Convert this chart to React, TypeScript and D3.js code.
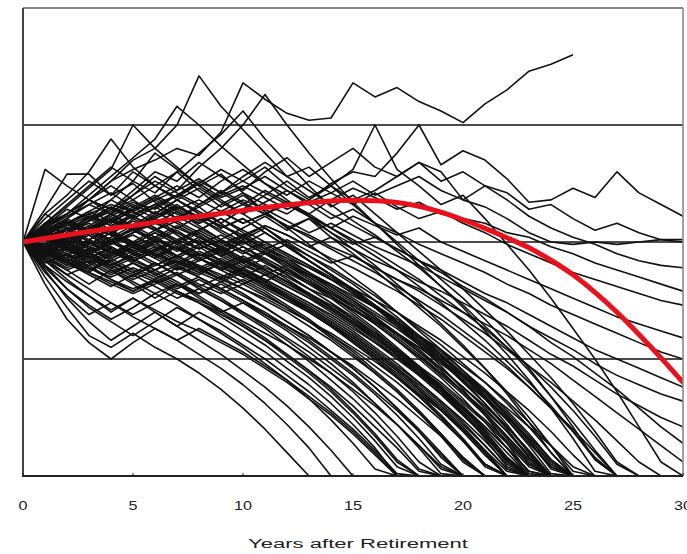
import React from 'react';
import * as d3 from 'd3';

// Years after retirement: index of each value = year (0..30)
const xTicks = [0, 5, 10, 15, 20, 25, 30];
const gridValues = [50, 100, 150];
const xTitle = 'Years after Retirement';

// Mean / expected path (red)
const meanPath = [100, 101.5, 103, 104.5, 105.8, 107, 108.5, 109.8, 111, 112.2, 113.5, 114.7, 115.8, 116.8, 117.5, 117.8, 117.6, 116.9, 115.3, 112.8, 109.5, 105.8, 101.8, 97.5, 92.2, 86, 78.5, 70, 60.5, 50.5, 40];

// Paths that survive (or end above zero)
const survivorPaths: number[][] = [
  [100, 108, 112, 118, 126, 131, 135, 140, 137, 147, 168, 161, 155, 152, 153, 168, 162, 166, 160, 156, 151, 159, 165, 173, 176, 180],
  [100, 103, 108, 112, 116, 113, 118, 122, 127, 121, 126, 132, 124, 118, 125, 130, 128, 138, 150, 133, 139, 135, 127, 117, 118, 123, 119, 130, 121, 116, 111],
  [100, 104, 109, 105, 112, 117, 114, 120, 125, 119, 123, 128, 122, 117, 121, 126, 120, 124, 128, 122, 118, 115, 110, 104, 100, 99, 100, 99, 100, 101, 101],
  [100, 106, 112, 118, 114, 122, 130, 126, 134, 128, 122, 130, 136, 128, 134, 140, 132, 128, 134, 126, 130, 124, 121, 114, 116, 110, 105, 108, 104, 101, 100],
  [100, 102, 98, 104, 110, 106, 112, 118, 113, 108, 114, 120, 126, 119, 124, 118, 122, 128, 134, 130, 118, 124, 118, 111, 106, 102, 99, 95, 92, 90, 89],
  [100, 97, 102, 107, 103, 110, 115, 110, 116, 121, 116, 122, 117, 112, 118, 123, 119, 114, 117, 112, 110, 108, 104, 102, 98, 95, 91, 88, 85, 82, 79],
  [100, 103, 107, 111, 108, 114, 119, 124, 119, 126, 131, 125, 120, 126, 121, 116, 121, 115, 110, 113, 108, 104, 99, 95, 91, 87, 84, 81, 78, 75, 73],
  [100, 96, 100, 104, 109, 105, 110, 114, 109, 113, 108, 112, 116, 111, 106, 111, 107, 103, 106, 100, 96, 92, 88, 84, 80, 76, 72, 68, 65, 62, 59],
  [100, 105, 101, 106, 111, 116, 112, 118, 123, 117, 112, 117, 122, 116, 110, 114, 108, 104, 99, 95, 91, 87, 82, 78, 73, 69, 65, 61, 57, 53, 50],
  [100, 98, 103, 99, 104, 109, 105, 111, 106, 101, 106, 111, 105, 110, 104, 99, 102, 97, 92, 88, 83, 78, 74, 69, 64, 59, 54, 50, 46, 42, 38],
  [100, 104, 108, 104, 109, 113, 118, 113, 108, 113, 118, 114, 109, 104, 108, 103, 98, 94, 90, 85, 80, 75, 70, 64, 59, 54, 48, 43, 39, 35, 32],
  [100, 97, 101, 105, 101, 106, 110, 106, 111, 107, 102, 107, 103, 98, 102, 97, 92, 88, 83, 79, 74, 69, 64, 58, 52, 47, 41, 35, 30, 25, 21],
  [100, 102, 106, 110, 115, 111, 116, 120, 115, 120, 124, 119, 114, 118, 112, 107, 102, 97, 92, 87, 81, 76, 70, 64, 57, 51, 44, 37, 29, 21, 14],
  [100, 99, 95, 99, 104, 100, 105, 109, 104, 99, 103, 97, 101, 96, 91, 94, 89, 84, 80, 75, 70, 65, 60, 54, 48, 41, 34, 27, 20, 13, 6],
];

// Paths that run out of money
const depletedPaths: number[][] = [
  [100, 82, 67, 57, 50, 57, 63, 58, 52, 46, 39, 31, 22, 12, 0],
  [100, 85, 72, 60, 55, 61, 55, 50, 44, 37, 29, 20, 10, 0],
  [100, 88, 76, 66, 58, 64, 70, 64, 58, 52, 45, 38, 30, 21, 11, 0],
  [100, 90, 80, 72, 66, 60, 66, 72, 67, 61, 55, 48, 41, 33, 24, 14, 3, 0],
  [100, 92, 84, 77, 70, 76, 70, 64, 70, 65, 59, 53, 46, 39, 31, 22, 12, 0],
  [100, 94, 88, 82, 88, 82, 76, 82, 77, 71, 65, 59, 52, 45, 37, 28, 18, 7, 0],
  [100, 95, 90, 96, 90, 85, 91, 86, 80, 75, 69, 63, 56, 49, 41, 33, 24, 14, 3, 0],
  [100, 97, 92, 87, 93, 88, 84, 89, 85, 80, 84, 79, 73, 67, 60, 53, 45, 37, 28, 18, 7, 0],
  [100, 93, 97, 91, 86, 91, 87, 82, 78, 83, 78, 72, 66, 60, 53, 46, 38, 29, 20, 10, 0],
  [100, 96, 100, 95, 90, 95, 100, 94, 89, 84, 88, 83, 77, 71, 65, 58, 51, 43, 35, 26, 16, 5, 0],
  [100, 104, 98, 93, 98, 93, 88, 93, 98, 92, 87, 82, 76, 70, 64, 57, 50, 42, 34, 25, 15, 4, 0],
  [100, 102, 106, 100, 95, 100, 95, 90, 95, 90, 85, 90, 84, 78, 72, 66, 59, 52, 44, 36, 27, 17, 6, 0],
  [100, 98, 94, 99, 104, 98, 93, 98, 93, 88, 92, 87, 82, 77, 71, 65, 59, 52, 45, 37, 29, 20, 10, 0],
  [100, 103, 99, 95, 100, 96, 101, 97, 92, 96, 91, 86, 90, 85, 79, 73, 67, 60, 53, 46, 38, 30, 21, 11, 0],
  [100, 101, 105, 110, 104, 99, 104, 99, 94, 98, 93, 88, 83, 78, 72, 66, 59, 52, 44, 36, 27, 17, 6, 0],
  [100, 97, 101, 106, 101, 96, 100, 105, 99, 94, 98, 92, 86, 80, 74, 67, 60, 53, 45, 37, 28, 18, 7, 0],
  [100, 105, 110, 105, 100, 106, 101, 96, 101, 95, 100, 95, 89, 83, 77, 70, 63, 55, 47, 38, 29, 19, 8, 0],
  [100, 96, 92, 88, 93, 98, 93, 88, 92, 96, 91, 95, 90, 84, 78, 72, 65, 58, 50, 42, 33, 23, 12, 0],
  [100, 104, 100, 105, 110, 105, 100, 94, 99, 94, 89, 93, 88, 82, 76, 69, 62, 54, 46, 37, 27, 16, 4, 0],
  [100, 99, 103, 98, 102, 107, 102, 107, 102, 97, 101, 96, 91, 85, 79, 73, 66, 59, 52, 44, 36, 27, 17, 7, 0],
  [100, 107, 112, 118, 112, 106, 111, 116, 110, 104, 99, 104, 98, 92, 86, 79, 72, 64, 56, 47, 37, 26, 14, 1, 0],
  [100, 103, 108, 113, 118, 113, 108, 113, 107, 101, 96, 91, 86, 80, 74, 68, 61, 54, 46, 38, 29, 19, 8, 0],
  [100, 95, 99, 104, 99, 104, 109, 103, 97, 101, 96, 100, 95, 90, 84, 78, 72, 65, 58, 51, 43, 35, 26, 16, 5, 0],
  [100, 102, 97, 101, 106, 111, 106, 100, 105, 110, 104, 98, 93, 87, 81, 75, 68, 61, 53, 45, 36, 27, 17, 6, 0],
  [100, 98, 102, 107, 112, 107, 113, 108, 103, 97, 92, 96, 91, 86, 80, 74, 68, 61, 54, 46, 38, 29, 19, 8, 0],
  [100, 104, 109, 104, 99, 104, 110, 115, 110, 105, 100, 95, 99, 94, 89, 83, 77, 70, 63, 56, 48, 40, 31, 21, 10, 0],
  [100, 101, 96, 100, 95, 99, 104, 99, 94, 98, 102, 97, 92, 87, 82, 76, 70, 64, 57, 50, 42, 34, 25, 15, 4, 0],
  [100, 106, 111, 116, 121, 115, 110, 104, 99, 103, 98, 93, 88, 83, 77, 71, 65, 58, 51, 43, 35, 26, 16, 5, 0],
  [100, 110, 118, 126, 120, 130, 124, 118, 112, 106, 110, 104, 98, 92, 86, 80, 73, 66, 58, 50, 41, 31, 20, 8, 0],
  [100, 108, 116, 124, 132, 126, 138, 131, 124, 118, 112, 106, 100, 94, 88, 82, 75, 68, 60, 52, 43, 33, 22, 10, 0],
  [100, 106, 112, 120, 128, 136, 144, 158, 150, 141, 133, 125, 118, 111, 104, 97, 90, 82, 74, 65, 56, 46, 35, 23, 10, 0],
  [100, 105, 110, 118, 126, 135, 140, 150, 171, 158, 148, 138, 128, 132, 124, 116, 108, 100, 92, 84, 76, 67, 57, 46, 34, 21, 7, 0],
  [100, 108, 115, 123, 131, 150, 140, 132, 124, 129, 121, 113, 106, 110, 102, 95, 88, 80, 72, 64, 55, 46, 36, 25, 13, 0],
  [100, 112, 120, 130, 144, 132, 124, 130, 122, 115, 120, 113, 106, 99, 92, 85, 78, 70, 62, 54, 45, 36, 26, 15, 3, 0],
  [100, 131, 124, 118, 124, 118, 112, 118, 112, 106, 110, 104, 98, 92, 86, 80, 73, 66, 59, 51, 43, 34, 24, 13, 1, 0],
  [100, 114, 129, 129, 120, 125, 117, 110, 115, 108, 101, 106, 99, 92, 86, 79, 72, 65, 57, 49, 40, 31, 21, 10, 0],
  [100, 107, 114, 110, 118, 126, 121, 130, 138, 146, 156, 144, 134, 124, 115, 120, 112, 104, 96, 88, 80, 71, 62, 52, 42, 31, 19, 6, 0],
  [100, 104, 110, 116, 112, 120, 128, 122, 132, 140, 150, 163, 150, 138, 127, 117, 108, 99, 90, 81, 72, 62, 52, 41, 29, 16, 2, 0],
  [100, 103, 108, 113, 109, 115, 120, 115, 110, 116, 121, 116, 112, 118, 124, 131, 150, 131, 124, 116, 120, 110, 99, 88, 76, 63, 50, 36, 21, 6, 0],
  [100, 103, 107, 111, 107, 112, 116, 112, 108, 112, 116, 112, 107, 103, 98, 94, 89, 84, 79, 73, 67, 61, 54, 47, 40, 32, 24, 15, 6, 0],
  [100, 98, 102, 106, 110, 106, 111, 115, 111, 107, 103, 107, 103, 98, 93, 89, 84, 79, 73, 67, 60, 53, 46, 38, 29, 20, 10, 0],
  [100, 105, 109, 105, 110, 114, 119, 114, 118, 113, 108, 112, 107, 102, 97, 92, 87, 81, 75, 69, 62, 55, 47, 38, 29, 19, 8, 0],
  [100, 97, 93, 97, 101, 105, 101, 106, 102, 98, 102, 97, 93, 89, 84, 80, 75, 70, 64, 58, 51, 44, 36, 28, 19, 9, 0],
  [100, 104, 100, 96, 100, 104, 108, 104, 100, 96, 100, 95, 91, 86, 82, 77, 72, 66, 60, 54, 47, 40, 32, 23, 13, 2, 0],
  [100, 106, 112, 118, 114, 120, 126, 121, 116, 122, 117, 112, 117, 112, 106, 100, 94, 88, 81, 74, 66, 58, 49, 40, 30, 19, 7, 0],
  [100, 102, 105, 109, 113, 118, 124, 119, 125, 131, 126, 121, 116, 111, 106, 101, 96, 90, 84, 77, 70, 63, 55, 47, 38, 28, 17, 5, 0],
  [100, 99, 104, 109, 114, 110, 115, 120, 126, 121, 128, 134, 128, 122, 116, 109, 103, 96, 89, 81, 73, 64, 55, 45, 34, 23, 11, 0],
  [100, 103, 98, 93, 97, 92, 96, 100, 95, 90, 94, 89, 85, 80, 76, 71, 66, 61, 55, 49, 43, 36, 29, 21, 13, 4, 0],
  [100, 95, 90, 94, 89, 84, 88, 83, 78, 82, 77, 72, 66, 60, 53, 46, 38, 29, 19, 8, 0],
  [100, 97, 93, 89, 85, 89, 85, 80, 84, 79, 74, 68, 62, 55, 48, 40, 31, 22, 12, 1, 0],
  [100, 94, 89, 93, 88, 83, 78, 82, 76, 70, 64, 58, 51, 44, 36, 27, 17, 6, 0],
  [100, 92, 86, 90, 84, 79, 84, 79, 74, 68, 62, 56, 49, 42, 34, 25, 15, 4, 0],
  [100, 98, 103, 97, 92, 87, 91, 86, 81, 76, 70, 64, 58, 51, 44, 36, 27, 17, 6, 0],
  [100, 101, 97, 92, 96, 91, 86, 90, 85, 80, 75, 69, 63, 57, 50, 43, 35, 26, 16, 5, 0],
  [100, 99, 95, 91, 95, 99, 94, 89, 93, 88, 83, 78, 72, 66, 59, 52, 44, 36, 27, 17, 6, 0],
  [100, 96, 92, 95, 91, 87, 83, 87, 82, 78, 82, 77, 72, 66, 60, 54, 47, 40, 32, 24, 15, 5, 0],
  [100, 103, 99, 94, 90, 94, 98, 93, 88, 92, 87, 82, 77, 72, 66, 60, 53, 46, 39, 31, 22, 13, 3, 0],
  [100, 90, 83, 77, 71, 76, 71, 66, 62, 57, 52, 46, 40, 33, 26, 18, 9, 0],
  [100, 89, 80, 73, 67, 72, 78, 73, 67, 62, 56, 50, 43, 36, 28, 20, 11, 1, 0],
  [100, 87, 77, 69, 74, 68, 63, 58, 63, 58, 53, 47, 41, 34, 27, 19, 10, 0],
  [100, 93, 86, 80, 74, 69, 74, 79, 74, 69, 64, 58, 52, 45, 38, 30, 21, 12, 2, 0],
  [100, 96, 91, 86, 81, 86, 81, 76, 80, 75, 70, 65, 59, 53, 46, 39, 31, 22, 13, 3, 0],
  [100, 105, 101, 97, 93, 97, 101, 97, 93, 89, 93, 88, 83, 78, 72, 66, 60, 53, 46, 38, 30, 21, 12, 2, 0],
  [100, 98, 94, 90, 94, 98, 102, 97, 102, 97, 92, 96, 91, 86, 81, 75, 69, 63, 56, 49, 41, 33, 24, 14, 4, 0],
  [100, 104, 108, 103, 98, 93, 97, 101, 105, 100, 95, 99, 94, 89, 84, 78, 72, 66, 59, 52, 44, 36, 27, 17, 7, 0],
  [100, 95, 91, 87, 82, 78, 82, 86, 90, 85, 89, 84, 79, 74, 69, 63, 57, 51, 44, 37, 29, 21, 12, 2, 0],
  [100, 102, 98, 94, 90, 86, 90, 94, 89, 93, 88, 83, 88, 83, 78, 73, 67, 61, 55, 48, 41, 33, 25, 16, 6, 0],
  [100, 108, 103, 109, 115, 110, 105, 100, 105, 110, 105, 100, 95, 90, 85, 79, 73, 67, 60, 53, 45, 37, 28, 18, 7, 0],
  [100, 112, 106, 100, 95, 100, 94, 99, 104, 98, 93, 88, 83, 77, 71, 65, 58, 51, 43, 35, 26, 17, 7, 0],
  [100, 97, 104, 111, 105, 100, 95, 90, 86, 91, 86, 81, 76, 71, 65, 59, 52, 45, 37, 29, 20, 10, 0],
  [100, 96, 102, 98, 94, 99, 95, 91, 96, 92, 88, 84, 79, 74, 68, 62, 55, 48, 40, 32, 23, 13, 3, 0],
  [100, 103, 97, 101, 105, 99, 94, 98, 93, 89, 85, 80, 75, 70, 64, 58, 51, 44, 36, 28, 19, 9, 0],
  [100, 94, 98, 103, 97, 92, 96, 91, 87, 83, 87, 82, 77, 72, 66, 60, 53, 46, 38, 30, 21, 11, 0],
  [100, 101, 106, 101, 97, 92, 96, 100, 95, 91, 86, 82, 77, 71, 65, 59, 52, 45, 37, 28, 19, 9, 0],
  [100, 98, 93, 88, 92, 96, 91, 86, 81, 85, 80, 75, 70, 64, 58, 51, 44, 36, 27, 18, 8, 0],
  [100, 105, 100, 95, 99, 103, 98, 94, 99, 95, 90, 86, 81, 76, 70, 64, 57, 50, 43, 35, 26, 17, 7, 0],
  [100, 93, 88, 92, 87, 91, 86, 81, 85, 80, 75, 70, 64, 58, 51, 44, 36, 28, 19, 9, 0],
  [100, 99, 104, 108, 103, 98, 102, 97, 93, 97, 92, 88, 83, 78, 73, 67, 61, 54, 47, 40, 32, 24, 15, 5, 0],
  [100, 102, 97, 93, 89, 93, 97, 92, 87, 91, 86, 81, 76, 70, 64, 57, 50, 42, 34, 25, 15, 5, 0],
  [100, 95, 100, 105, 100, 95, 90, 94, 89, 84, 88, 83, 78, 73, 67, 61, 54, 47, 40, 32, 24, 15, 5, 0],
  [100, 91, 95, 89, 84, 80, 84, 79, 75, 71, 66, 61, 56, 50, 44, 37, 30, 22, 13, 4, 0],
  [100, 97, 92, 96, 100, 95, 99, 94, 90, 86, 82, 86, 81, 76, 71, 65, 59, 53, 46, 39, 31, 23, 14, 4, 0],
  [100, 104, 108, 112, 107, 111, 106, 101, 97, 101, 96, 92, 87, 82, 77, 71, 65, 58, 51, 44, 36, 28, 19, 9, 0],
  [100, 96, 91, 87, 83, 79, 83, 78, 74, 70, 74, 69, 64, 59, 53, 47, 40, 33, 25, 17, 8, 0],
  [100, 101, 96, 100, 96, 92, 88, 92, 88, 84, 80, 76, 71, 66, 61, 55, 49, 42, 35, 28, 20, 11, 2, 0],
];

const W = 687;
const H = 554;
const PL = 23;
const PR = 683;
const PT = 8;
const PB = 476;

export default function App() {
  const x = d3.scaleLinear().domain([0, 30]).range([PL, PR]);
  const y = d3.scaleLinear().domain([0, 200]).range([PB, PT]);
  const line = d3.line<number>().x((_, i) => x(i)).y((d) => y(d));
  const redLine = d3
    .line<number>()
    .x((_, i) => x(i))
    .y((d) => y(d))
    .curve(d3.curveMonotoneX);

  const allPaths = [...depletedPaths, ...survivorPaths];

  return (
    <svg
      width={W}
      height={H}
      style={{ position: 'absolute', left: 0, top: 0, background: '#fff' }}
      fontFamily="'Liberation Sans', Arial, sans-serif"
    >
      <defs>
        <clipPath id="plot">
          <rect x={PL} y={PT} width={PR - PL} height={PB - PT} />
        </clipPath>
      </defs>
      <rect x={0} y={0} width={W} height={H} fill="#fff" />
      {gridValues.map((g) => (
        <line key={g} x1={PL} x2={PR} y1={y(g)} y2={y(g)} stroke="#111" strokeWidth={1.6} />
      ))}
      <g clipPath="url(#plot)">
        {allPaths.map((p, i) => (
          <path key={i} d={line(p) || ''} fill="none" stroke="#111" strokeWidth={1.6} strokeLinejoin="round" />
        ))}
        <path d={redLine(meanPath) || ''} fill="none" stroke="#e8121c" strokeWidth={5} strokeLinecap="round" />
      </g>
      {/* frame */}
      <line x1={PL} x2={PR} y1={PT} y2={PT} stroke="#8a8a8a" strokeWidth={2} />
      <line x1={PR} x2={PR} y1={PT} y2={PB} stroke="#8a8a8a" strokeWidth={1.6} />
      <line x1={PL} x2={PL} y1={PT} y2={PB} stroke="#444" strokeWidth={2} />
      <line x1={PL - 1} x2={PR} y1={PB} y2={PB} stroke="#222" strokeWidth={2} />
      {xTicks.map((t) => (
        <g key={t}>
          <line x1={x(t)} x2={x(t)} y1={PB} y2={PB - 3} stroke="#222" strokeWidth={1} />
          <g transform={`translate(${x(t)},510) scale(1.35,1)`}>
            <text textAnchor="middle" fontSize={12} fill="#222">
              {t}
            </text>
          </g>
        </g>
      ))}
      <text
        x={358}
        y={548}
        textAnchor="middle"
        fontSize={12}
        fill="#222"
        textLength={220}
        lengthAdjust="spacingAndGlyphs"
      >
        {xTitle}
      </text>
    </svg>
  );
}
